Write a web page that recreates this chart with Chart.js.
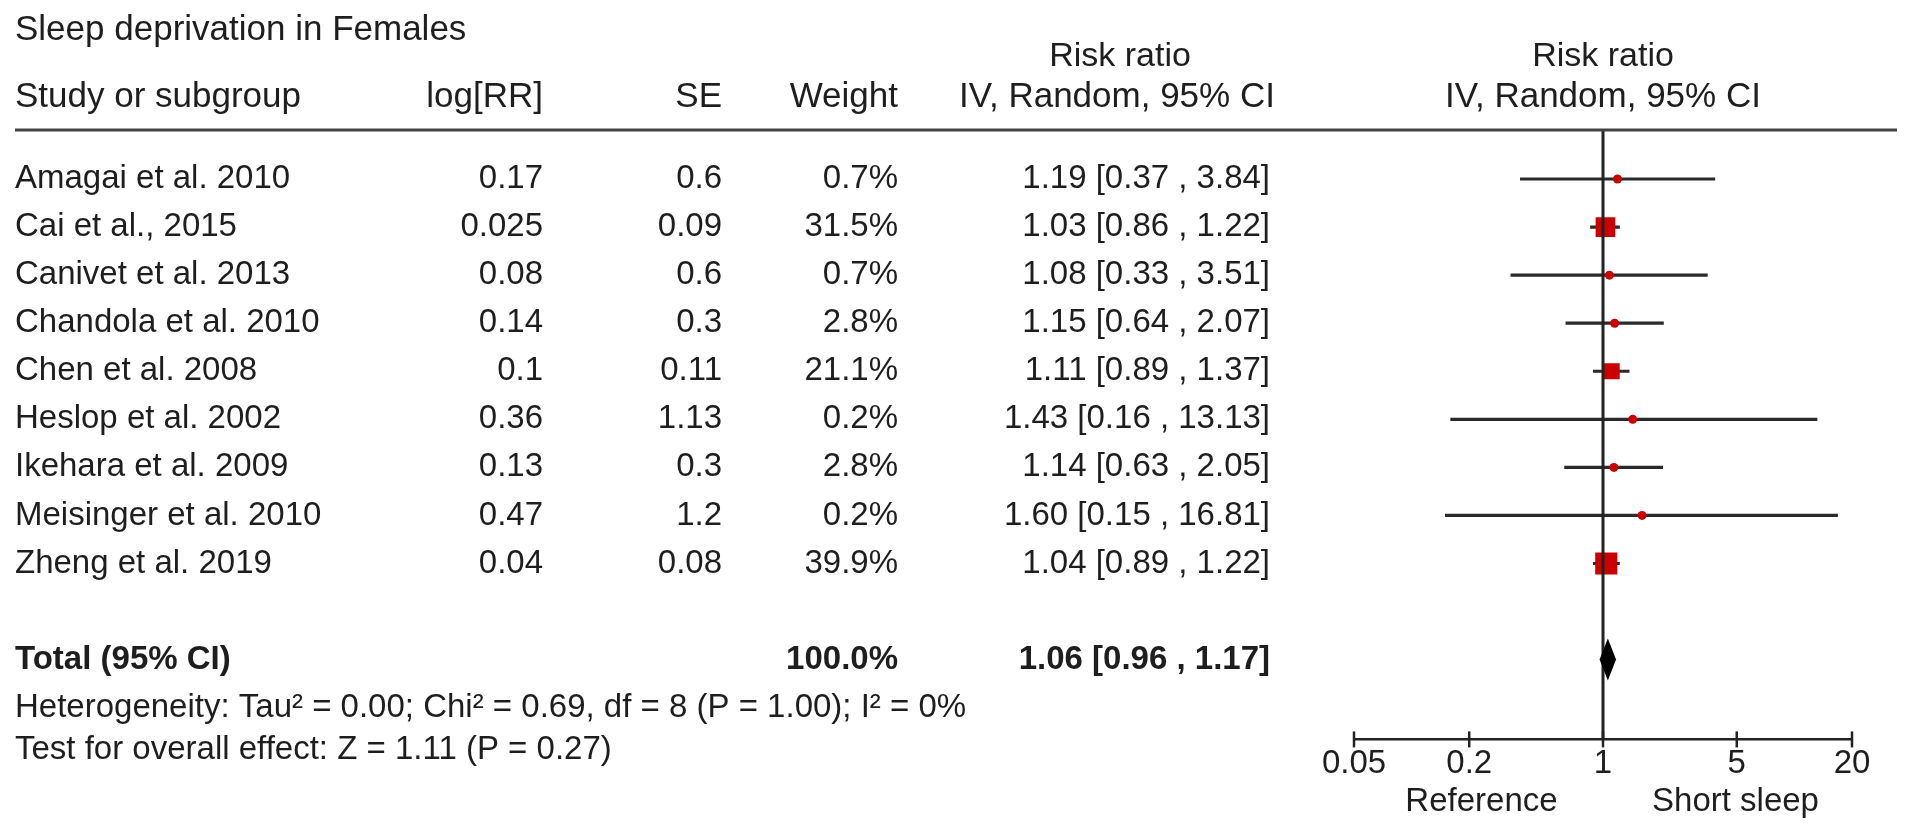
<!DOCTYPE html>
<html>
<head>
<meta charset="utf-8">
<script src="https://cdn.jsdelivr.net/npm/chart.js@4.4.1/dist/chart.umd.min.js"></script>
<style>
html, body { margin: 0; padding: 0; background: #fff; }
#wrap { position: relative; width: 1913px; height: 827px; }
</style>
</head>
<body>
<div id="wrap"><canvas id="forest"></canvas></div>
<script>
// study rows
const studies = ['Amagai et al. 2010', 'Cai et al., 2015', 'Canivet et al. 2013', 'Chandola et al. 2010',
  'Chen et al. 2008', 'Heslop et al. 2002', 'Ikehara et al. 2009', 'Meisinger et al. 2010', 'Zheng et al. 2019'];
const logRR = ['0.17', '0.025', '0.08', '0.14', '0.1', '0.36', '0.13', '0.47', '0.04'];
const seText = ['0.6', '0.09', '0.6', '0.3', '0.11', '1.13', '0.3', '1.2', '0.08'];
const weights = [0.7, 31.5, 0.7, 2.8, 21.1, 0.2, 2.8, 0.2, 39.9];
const rr = [1.19, 1.03, 1.08, 1.15, 1.11, 1.43, 1.14, 1.60, 1.04];
const lower = [0.37, 0.86, 0.33, 0.64, 0.89, 0.16, 0.63, 0.15, 0.89];
const upper = [3.84, 1.22, 3.51, 2.07, 1.37, 13.13, 2.05, 16.81, 1.22];

// pooled estimate
const totalRR = 1.06;
const totalLower = 0.96;
const totalUpper = 1.17;
const totalWeight = 100.0;

const tickValues = [0.05, 0.2, 1, 5, 20];

const FONT = '"Liberation Sans", Arial, sans-serif';
const INK = '#1e1e1e';
const RED = '#cc0000';
const totalRow = studies.length + 1;

// marker size grows with weight, small studies get a dot
const sides = weights.map(w => Math.max(9, 3.5 * Math.sqrt(w)));
const styles = sides.map(s => s <= 10 ? 'circle' : 'rect');
const radii = sides.map((s, i) => styles[i] == 'circle' ? s / 2 : s / Math.SQRT2);

function txt(ctx, s, x, y, align, bold, size) {
  ctx.font = (bold ? 'bold ' : '') + (size || 33) + 'px ' + FONT;
  ctx.textAlign = align;
  ctx.textBaseline = 'middle';
  ctx.fillStyle = INK;
  ctx.fillText(s, x, y);
}

const forestPlugin = {
  id: 'forestPlugin',
  afterDatasetsDraw(chart) {
    const {ctx, chartArea} = chart;
    const x = chart.scales.x, y = chart.scales.y;
    ctx.save();
    // line of no effect
    const x1 = x.getPixelForValue(1);
    ctx.strokeStyle = '#222';
    ctx.lineWidth = 3;
    ctx.beginPath();
    ctx.moveTo(x1, chartArea.top);
    ctx.lineTo(x1, chartArea.bottom);
    ctx.stroke();
    // pooled diamond
    const yt = y.getPixelForValue(totalRow);
    const h = 21;
    ctx.fillStyle = '#000';
    ctx.beginPath();
    ctx.moveTo(x.getPixelForValue(totalLower), yt);
    ctx.lineTo(x.getPixelForValue(totalRR), yt - h);
    ctx.lineTo(x.getPixelForValue(totalUpper), yt);
    ctx.lineTo(x.getPixelForValue(totalRR), yt + h);
    ctx.closePath();
    ctx.fill();
    ctx.restore();
  },
  afterDraw(chart) {
    const {ctx, chartArea} = chart;
    const x = chart.scales.x, y = chart.scales.y;
    ctx.save();

    // header
    txt(ctx, 'Sleep deprivation in Females', 15, 30, 'left', false, 35);
    txt(ctx, 'Study or subgroup', 15, 97, 'left', false, 35);
    txt(ctx, 'log[RR]', 543, 97, 'right', false, 35);
    txt(ctx, 'SE', 722, 97, 'right', false, 35);
    txt(ctx, 'Weight', 898, 97, 'right', false, 35);
    txt(ctx, 'Risk ratio', 1120, 57, 'center', false, 34);
    txt(ctx, 'IV, Random, 95% CI', 1117, 97, 'center', false, 35);
    const xc = x.getPixelForValue(1);
    txt(ctx, 'Risk ratio', xc, 57, 'center', false, 34);
    txt(ctx, 'IV, Random, 95% CI', xc, 97, 'center', false, 35);

    ctx.strokeStyle = '#444';
    ctx.lineWidth = 3;
    ctx.beginPath();
    ctx.moveTo(15, chartArea.top);
    ctx.lineTo(1897, chartArea.top);
    ctx.stroke();

    // study rows
    studies.forEach((s, i) => {
      const py = y.getPixelForValue(i);
      txt(ctx, s, 15, py, 'left');
      txt(ctx, logRR[i], 543, py, 'right');
      txt(ctx, seText[i], 722, py, 'right');
      txt(ctx, weights[i].toFixed(1) + '%', 898, py, 'right');
      txt(ctx, rr[i].toFixed(2) + ' [' + lower[i].toFixed(2) + ' , ' + upper[i].toFixed(2) + ']', 1270, py, 'right');
    });

    const yt = y.getPixelForValue(totalRow);
    txt(ctx, 'Total (95% CI)', 15, yt, 'left', true);
    txt(ctx, totalWeight.toFixed(1) + '%', 898, yt, 'right', true);
    txt(ctx, totalRR.toFixed(2) + ' [' + totalLower.toFixed(2) + ' , ' + totalUpper.toFixed(2) + ']', 1270, yt, 'right', true);
    txt(ctx, 'Heterogeneity: Tau\u00b2 = 0.00; Chi\u00b2 = 0.69, df = 8 (P = 1.00); I\u00b2 = 0%', 15, yt + 48, 'left');
    txt(ctx, 'Test for overall effect: Z = 1.11 (P = 0.27)', 15, yt + 90, 'left');

    // tick marks crossing the axis
    ctx.strokeStyle = '#222';
    ctx.lineWidth = 2.5;
    x.ticks.forEach(t => {
      const px = x.getPixelForValue(t.value);
      ctx.beginPath();
      ctx.moveTo(px, chartArea.bottom - 8);
      ctx.lineTo(px, chartArea.bottom + 8);
      ctx.stroke();
    });

    txt(ctx, 'Reference', (chartArea.left + xc) / 2 + 3, 802, 'center');
    txt(ctx, 'Short sleep', (chartArea.right + xc) / 2 + 8, 802, 'center');
    ctx.restore();
  }
};

new Chart(document.getElementById('forest'), {
  type: 'bar',
  data: {
    datasets: [
      {
        type: 'scatter',
        label: 'Risk ratio',
        data: rr.map((v, i) => ({x: v, y: i})),
        pointStyle: styles,
        pointRadius: radii,
        pointHoverRadius: radii,
        backgroundColor: RED,
        borderWidth: 0
      },
      {
        type: 'bar',
        label: '95% CI',
        indexAxis: 'y',
        data: studies.map((s, i) => ({y: i, x: [lower[i], upper[i]]})),
        barThickness: 2.5,
        backgroundColor: '#2a2a2a',
        borderWidth: 0
      }
    ]
  },
  options: {
    responsive: true,
    maintainAspectRatio: false,
    animation: false,
    layout: {padding: {left: 1354, right: 61, top: 130, bottom: 38}},
    plugins: {legend: {display: false}, tooltip: {enabled: false}},
    scales: {
      x: {
        type: 'logarithmic',
        min: 0.05,
        max: 20,
        offset: false,
        afterBuildTicks: scale => { scale.ticks = tickValues.map(v => ({value: v})); },
        ticks: {
          callback: v => String(v),
          color: INK,
          font: {family: FONT, size: 33},
          padding: 5,
          autoSkip: false,
          maxRotation: 0
        },
        grid: {display: false, drawTicks: false, tickLength: 0, offset: false},
        border: {display: true, color: '#222', width: 2.5}
      },
      y: {
        type: 'linear',
        min: -1.02,
        max: 11.66,
        reverse: true,
        offset: false,
        grid: {offset: false},
        display: false
      }
    }
  },
  plugins: [forestPlugin]
});
</script>
</body>
</html>
